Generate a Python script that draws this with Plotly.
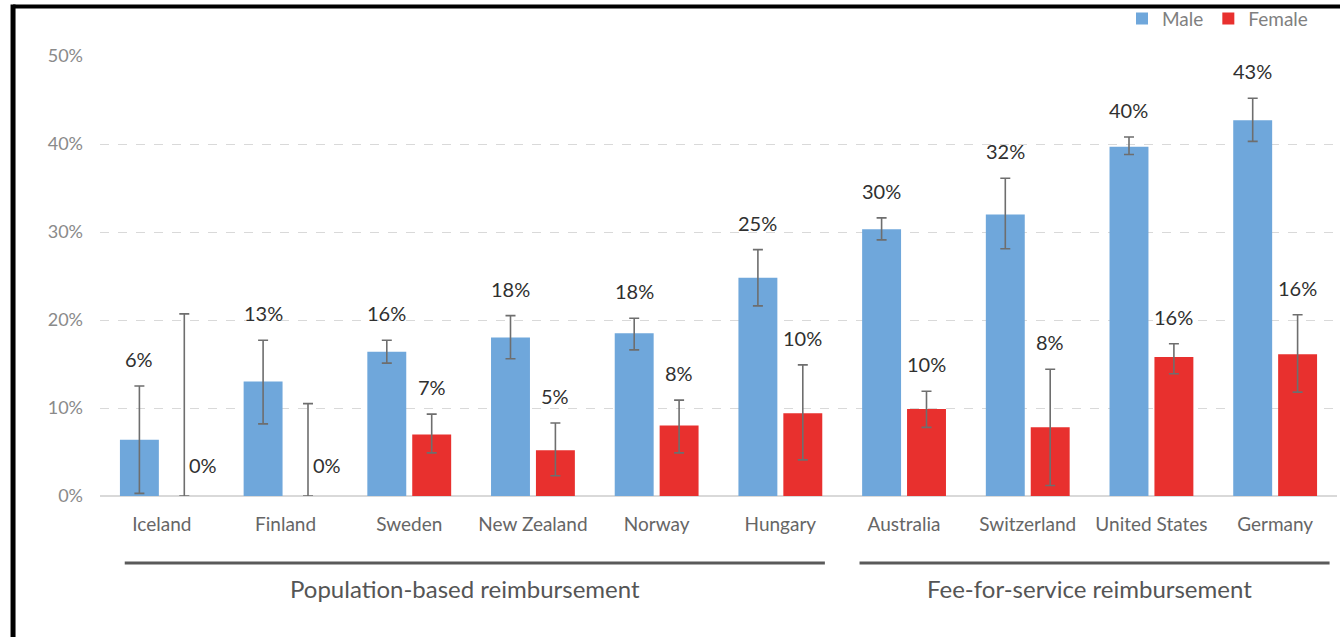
import plotly.graph_objects as go

countries = ["Iceland", "Finland", "Sweden", "New Zealand", "Norway", "Hungary",
             "Australia", "Switzerland", "United States", "Germany"]
male = [6.4, 13.0, 16.4, 18.0, 18.5, 24.8, 30.3, 32.0, 39.7, 42.7]
male_hi = [12.5, 17.7, 17.7, 20.5, 20.2, 28.0, 31.6, 36.1, 40.8, 45.2]
male_lo = [0.3, 8.2, 15.1, 15.6, 16.6, 21.6, 29.1, 28.1, 38.8, 40.3]
female = [0.0, 0.0, 7.0, 5.2, 8.0, 9.4, 9.9, 7.8, 15.8, 16.1]
female_hi = [20.7, 10.5, 9.3, 8.3, 10.9, 14.9, 11.9, 14.4, 17.3, 20.6]
female_lo = [0.0, 0.0, 4.9, 2.3, 4.9, 4.1, 7.8, 1.2, 13.9, 11.8]
male_labels = ["6%", "13%", "16%", "18%", "18%", "25%", "30%", "32%", "40%", "43%"]
female_labels = ["0%", "0%", "7%", "5%", "8%", "10%", "10%", "8%", "16%", "16%"]
groups = ["Population-based reimbursement", "Fee-for-service reimbursement"]
group_spans = [(-0.30, 5.36), (5.64, 9.44)]
group_label_x = [2.45, 7.5]
yticks = [0, 10, 20, 30, 40, 50]
ytick_labels = ["0%", "10%", "20%", "30%", "40%", "50%"]

BLUE = "#6FA7DB"
RED = "#E8302E"
FONT = "Lato, 'Open Sans', sans-serif"
LABEL_FONT = dict(family=FONT, size=20, color="#303030")

fig = go.Figure()
fig.add_trace(go.Bar(
    name="Male", x=countries, y=male, marker_color=BLUE, marker_line_width=0,
    error_y=dict(type="data", symmetric=False,
                 array=[h - v for h, v in zip(male_hi, male)],
                 arrayminus=[v - l for v, l in zip(male, male_lo)],
                 color="#6e6e6e", thickness=1.6, width=5),
))
fig.add_trace(go.Bar(
    name="Female", x=countries, y=female, marker_color=RED, marker_line_width=0,
    error_y=dict(type="data", symmetric=False,
                 array=[h - v for h, v in zip(female_hi, female)],
                 arrayminus=[v - l for v, l in zip(female, female_lo)],
                 color="#6e6e6e", thickness=1.6, width=5),
))

annotations = []
for i, c in enumerate(countries):
    annotations.append(dict(x=c, y=male_hi[i], xref="x", yref="y", text=male_labels[i],
                            showarrow=False, xshift=-22.5, yshift=27, yanchor="middle",
                            font=LABEL_FONT))
    if female[i] == 0:
        annotations.append(dict(x=c, y=0, xref="x", yref="y", text=female_labels[i],
                                showarrow=False, xshift=41, yshift=31, yanchor="middle",
                                font=LABEL_FONT))
    else:
        annotations.append(dict(x=c, y=female_hi[i], xref="x", yref="y", text=female_labels[i],
                                showarrow=False, xshift=22.5, yshift=27, yanchor="middle",
                                font=LABEL_FONT))

shapes = []
for g, (a, b), gx in zip(groups, group_spans, group_label_x):
    shapes.append(dict(type="line", xref="x", yref="paper", x0=a, x1=b, y0=-0.152, y1=-0.152,
                       line=dict(color="#5a5a5a", width=3)))
    annotations.append(dict(x=gx, y=-0.211, xref="x", yref="paper", text=g,
                            showarrow=False, yanchor="middle",
                            font=dict(family=FONT, size=24, color="#555555")))

# black frame (top and left)
shapes.append(dict(type="line", xref="paper", yref="paper", x0=-0.0703, x1=1.01,
                   y0=1.1125, y1=1.1125, line=dict(color="black", width=4)))
shapes.append(dict(type="line", xref="paper", yref="paper", x0=-0.0703, x1=-0.0703,
                   y0=1.1170, y1=-0.35, line=dict(color="black", width=5)))

fig.update_layout(
    width=1340, height=637,
    margin=dict(l=100, r=3, t=56, b=141, autoexpand=False),
    paper_bgcolor="white", plot_bgcolor="white",
    barmode="group", bargap=0.274, bargroupgap=0.133,
    font=dict(family=FONT, color="#777777"),
    showlegend=True,
    legend=dict(orientation="h", x=0.9806, xanchor="right", y=1.085, yanchor="middle",
                font=dict(family=FONT, size=19, color="#808080"), bgcolor="rgba(0,0,0,0)"),
    xaxis=dict(tickfont=dict(family=FONT, size=19, color="#666666"), showgrid=False,
               showline=False, ticks="", range=[-0.5, 9.5], ticklabelstandoff=15),
    yaxis=dict(range=[0, 50], tickvals=yticks, ticktext=ytick_labels,
               tickfont=dict(family=FONT, size=18, color="#8a8a8a"),
               showgrid=True, gridcolor="#d9d9d9", griddash="dash", gridwidth=1.2,
               zeroline=True, zerolinecolor="#d9d9d9", zerolinewidth=1.5,
               ticklabelstandoff=16),
    shapes=shapes, annotations=annotations,
)

fig.write_html("out.html")
